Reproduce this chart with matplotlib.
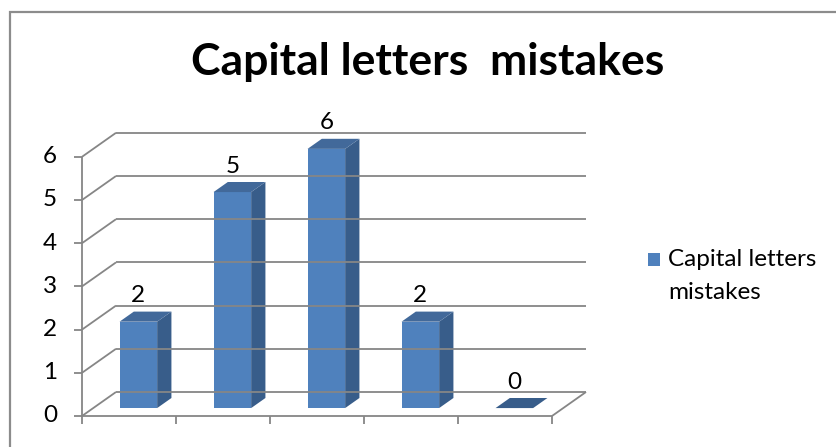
"""
3-D style column chart: capital letter mistakes per student group.
Drawn with flat polygons so the pseudo-depth matches a spreadsheet chart.
"""

import matplotlib.pyplot as plt
from matplotlib.patches import Polygon, Rectangle

# ---------------------------------------------------------------------------
# Data
# ---------------------------------------------------------------------------
values = [2, 5, 6, 2, 0]
series_lines = ["Capital letters", "mistakes"]
title = "Capital letters  mistakes"
yticks = [0, 1, 2, 3, 4, 5, 6]

# ---------------------------------------------------------------------------
# Style
# ---------------------------------------------------------------------------
FONT = "Lato"
GRID = "#868686"
FRONT = "#4F81BD"
SIDE = "#385D8A"
TOP = "#42699A"
LABEL_SIZE = 17.5

W, H = 837, 447
fig = plt.figure(figsize=(W / 100, H / 100), dpi=100)

# plot area: x in category units, y in value units
px_cat, px_val = 94.0, 43.2
x0_px, y0_px = 82, 416
ax = fig.add_axes([x0_px / W, (H - y0_px) / H,
                   5 * px_cat / W, 6 * px_val / H])
ax.set_xlim(0, 5)
ax.set_ylim(0, 6)
ax.axis("off")

# depth of the wall in data units
DX = 34 / px_cat
DY = 24 / px_val
n = len(values)
lw = 1.3


def line(xs, ys, **kw):
    ax.plot(xs, ys, color=GRID, lw=lw, clip_on=False,
            solid_capstyle="butt", **kw)


# back wall gridlines and left wall diagonals
for t in yticks:
    line([0, DX], [t, t + DY])
    line([DX, n + DX], [t + DY, t + DY])
    line([-8 / px_cat, 0], [t, t])
    ax.text(-25 / px_cat, t, str(t), ha="right", va="center",
            fontsize=LABEL_SIZE, family=FONT, color="black")

# front axis line, floor front edge and floor right diagonal
line([0, 0], [0, 6])
line([0, n], [0, 0])
line([n, n + DX], [0, DY])
for i in range(n + 1):
    line([i, i], [0, -8 / px_val])

# bars
f0, f1 = 0.33, 0.75
half = 0.2
for i, v in enumerate(values):
    cx = i + 0.48
    xl = cx - half + f0 * DX
    xr = cx + half + f0 * DX
    yb = f0 * DY
    ddx = (f1 - f0) * DX
    ddy = (f1 - f0) * DY
    top = [(xl, yb + v), (xr, yb + v), (xr + ddx, yb + v + ddy),
           (xl + ddx, yb + v + ddy)]
    if v > 0:
        ax.add_patch(Polygon([(xl, yb), (xr, yb), (xr, yb + v), (xl, yb + v)],
                             closed=True, fc=FRONT, ec="none", clip_on=False))
        ax.add_patch(Polygon([(xr, yb), (xr + ddx, yb + ddy),
                              (xr + ddx, yb + v + ddy), (xr, yb + v)],
                             closed=True, fc=SIDE, ec="none", clip_on=False))
        ax.add_patch(Polygon(top, closed=True, fc=TOP, ec="none",
                             clip_on=False))
    else:
        ax.add_patch(Polygon(top, closed=True, fc=SIDE, ec="none",
                             clip_on=False))
    ax.text(cx + f0 * DX, yb + v + 0.6, str(v), ha="center", va="center",
            fontsize=LABEL_SIZE, family=FONT, color="black")

# title
fig.text(428 / W, 1 - 62 / H, title, ha="center", va="center",
         fontsize=32, fontweight="bold", family=FONT, color="black")

# legend: swatch plus two-line entry
fig.patches.append(Rectangle((648 / W, 1 - 266 / H), 12 / W, 13 / H,
                             transform=fig.transFigure, fc=FRONT, ec="none"))
for k, txt in enumerate(series_lines):
    fig.text(668 / W, 1 - (266 + 33 * k) / H, txt, ha="left", va="baseline",
             fontsize=LABEL_SIZE, family=FONT, color="black")

# outer chart frame
fig.patches.append(Rectangle((10.5 / W, -0.1), 2, 1.1 - 12 / H,
                             transform=fig.transFigure, fill=False,
                             ec="#8C8C8C", lw=1.6))

fig.savefig("out.png", dpi=100)
